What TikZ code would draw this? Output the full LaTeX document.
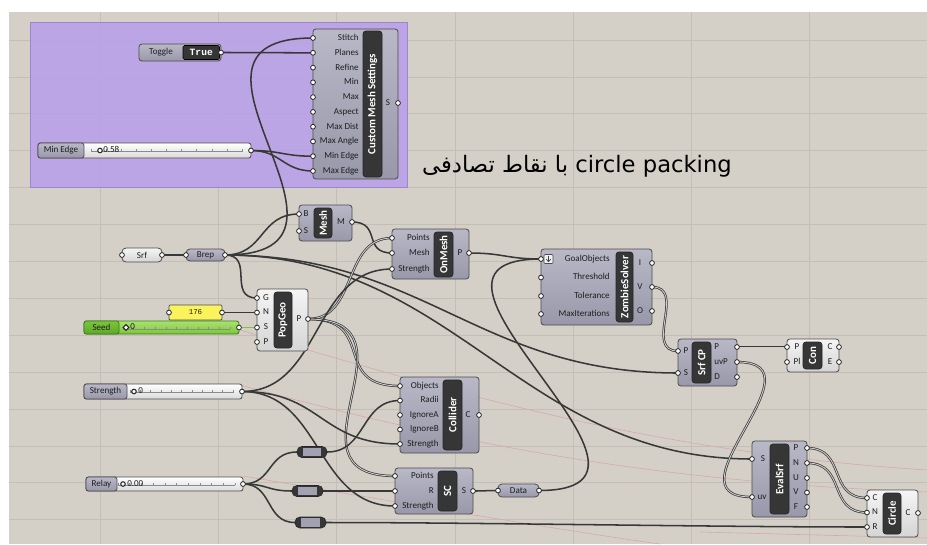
\documentclass[tikz,border=0pt]{standalone}
\usepackage{fontspec}
\setmainfont{Carlito}
\newfontfamily\titlefont{DejaVu Sans}
\newfontfamily\arabicfont[Script=Arabic]{DejaVu Sans}
\newfontfamily\panelfont{Liberation Mono}
\TeXXeTstate=1
\usetikzlibrary{shapes.geometric}

\pgfdeclarelayer{canvas}
\pgfdeclarelayer{wires}
\pgfsetlayers{canvas,wires,main}

\definecolor{canvasbg}{HTML}{D4D0C8}
\definecolor{gridc}{HTML}{C3BFB7}
\definecolor{groupc}{HTML}{B9A1E8}
\definecolor{groupedge}{HTML}{9C86D2}
\definecolor{wirec}{HTML}{383838}
\definecolor{wirelight}{HTML}{CFCFCF}
\definecolor{bodytop}{HTML}{B9B8C7}
\definecolor{bodybot}{HTML}{9998AA}
\definecolor{lighttop}{HTML}{F5F5F5}
\definecolor{lightbot}{HTML}{D5D5D5}
\definecolor{capc}{HTML}{363636}
\definecolor{edgec}{HTML}{4C4C4C}
\definecolor{labelc}{HTML}{1E1E1E}
\definecolor{pinkc}{HTML}{D8A9A9}
\definecolor{trackbot}{HTML}{DADADA}
\definecolor{tickc}{HTML}{8A8A8A}
\definecolor{seedtop}{HTML}{A8E26C}
\definecolor{seedbot}{HTML}{7CC53A}
\definecolor{seedlabtop}{HTML}{7CC53A}
\definecolor{seedlabbot}{HTML}{5EA82A}
\definecolor{seededge}{HTML}{3E7A1E}
\definecolor{seedwirec}{HTML}{7CC444}
\definecolor{panelc}{HTML}{FAF35C}
\definecolor{relayc}{HTML}{A2A1B2}

\tikzset{
  gbody/.style={draw=edgec, line width=0.6pt, rounded corners=2.2pt, top color=bodytop,
    bottom color=bodybot, inner sep=0pt, outer sep=0pt, text=labelc,
    font=\fontsize{6.8}{7}\selectfont},
  lbody/.style={gbody, top color=lighttop, bottom color=lightbot},
  gparam/.style={gbody, rounded corners=3pt},
  lparam/.style={lbody, rounded corners=3pt},
  track/.style={gbody, rounded corners=1.8pt, top color=white, bottom color=trackbot},
  seedtrack/.style={track, draw=seededge, top color=seedtop, bottom color=seedbot},
  seedlab/.style={gbody, rounded corners=1.8pt, draw=seededge, top color=seedlabtop, bottom color=seedlabbot},
  slab/.style={gbody, rounded corners=1.8pt},
  panel/.style={gbody, rounded corners=0.8pt, top color=panelc, bottom color=panelc,
    font=\panelfont\fontsize{5.6}{6}\selectfont},
  togval/.style={draw=black, fill=capc, rounded corners=1.2pt, text=white, inner sep=0pt,
    outer sep=0pt, font=\panelfont\bfseries\fontsize{7.2}{7.2}\selectfont},
  capsule/.style={draw=black!85, fill=capc, rounded corners=2.2pt, text=white, inner sep=0pt,
    outer sep=0pt, line width=0.5pt, font=\bfseries\fontsize{8.2}{8.2}\selectfont},
  relayend/.style={draw=black!85, fill=capc, rounded corners=3.6pt, inner sep=0pt, outer sep=0pt},
  relaymid/.style={fill=relayc, inner sep=0pt, outer sep=0pt},
  port/.style={circle, draw=black!85, fill=white, line width=0.6pt, minimum size=3.6pt,
    inner sep=0pt, outer sep=0pt},
  lbl/.style={text=labelc, font=\fontsize{6.8}{7}\selectfont, inner sep=0pt,
    text height=4.6pt, text depth=0.9pt},
  grip/.style={circle, draw=black!85, fill=white, line width=0.8pt, minimum size=3.4pt, inner sep=0pt},
  seedgrip/.style={diamond, draw=black!85, fill=white, line width=0.7pt, minimum size=4.6pt, inner sep=0pt},
  tick/.style={draw=tickc, line width=0.35pt},
  wire/.style={draw=wirec, line width=1.15pt},
  lwire/.style={draw=wirec, line width=0.55pt, double=wirelight, double distance=0.65pt},
  seedwire/.style={draw=seedwirec, line width=1.15pt},
  gridline/.style={draw=gridc, line width=0.6pt},
  pinkline/.style={draw=pinkc, line width=0.45pt},
  groupst/.style={draw=groupedge, line width=0.6pt, fill=groupc, fill opacity=0.9,
    inner sep=0pt, outer sep=0pt},
  titletext/.style={text=black, font=\titlefont\fontsize{17}{17}\selectfont, inner sep=0pt},
  iconbox/.style={draw=black!70, fill=white!88!gray, rounded corners=0.8pt, inner sep=0pt,
    outer sep=0pt, line width=0.4pt},
}

% box node from pixel corners: name, style, x1, y1, x2, y2, text
\newcommand\gbox[7]{%
  \pgfmathsetmacro\bw{(#5-#3)*0.75}%
  \pgfmathsetmacro\bh{(#6-#4)*0.75}%
  \node[#2, minimum width=\bw pt, minimum height=\bh pt] (#1) at ({(#3+#5)/2},{(#4+#6)/2}) {#7};}
% dark title strip of a component, text turned upwards
\newcommand\gcap[6]{%
  \pgfmathsetmacro\bw{(#4-#2)*0.75}%
  \pgfmathsetmacro\bh{(#5-#3)*0.75}%
  \node[capsule, rotate=90, minimum width=\bh pt, minimum height=\bw pt] (#1) at ({(#2+#4)/2},{(#3+#5)/2}) {#6};}
% port circle with its label: name, x, y, label x, label anchor, label
\newcommand\gport[6]{%
  \node[port] (#1) at (#2,#3) {};
  \node[lbl, anchor=#5] (#1-l) at (#4,#3) {#6};}
% wire between two ports
\newcommand\wire[4][]{\draw[wire,#1] (#2.center) .. controls +(#4,0) and +(-#4,0) .. (#3.center);}
% slider scale
\newcommand\ticks[3]{%
  \draw[tick] (#1,#3) -- (#2,#3);
  \foreach \k in {0,...,10} {\draw[tick] ({#1+(#2-#1)*\k/10},#3) -- ++(0,-2.5);}}

\begin{document}
\begin{tikzpicture}[x=0.75pt,y=-0.75pt]
\useasboundingbox (0,0) rectangle (927,544);

\begin{pgfonlayer}{canvas}
  \fill[white] (0,0) rectangle (927,544);
  \fill[canvasbg] (9,12) rectangle (927,544);
  \foreach \gx in {100,218.3,336.6,454.9,573.2,691.5,809.8}
    \draw[gridline] (\gx,12) -- (\gx,544);
  \foreach \k in {0,...,13}
    \draw[gridline] (9,{40+36.9*\k}) -- (927,{40+36.9*\k});
  % faint preview curves
  \draw[pinkline] (240,330) .. controls (450,392) and (650,452) .. (927,470);
  \draw[pinkline] (240,385) .. controls (450,442) and (650,482) .. (927,492);
  \draw[pinkline] (243,476) .. controls (420,506) and (560,530) .. (660,544);
  \draw[pinkline] (700,532) .. controls (780,534) and (860,536) .. (927,538);
  % group
  \gbox{grp}{groupst}{30}{22}{407}{187}{}
  % title
  \node[titletext, anchor=base] (title) at (577,172)
    {\beginR\beginL circle packing\endL\ {\arabicfont با نقاط تصادفی}\endR};
\end{pgfonlayer}

% ---------- Custom Mesh Settings ----------
\gbox{cms}{gbody}{313}{29}{398}{179}{}
\gcap{cms-cap}{363}{31}{382}{177}{Custom Mesh Settings}
\gport{cms-stitch}{313}{38}{359}{east}{Stitch}
\gport{cms-planes}{313}{52.8}{359}{east}{Planes}
\gport{cms-refine}{313}{67.6}{359}{east}{Refine}
\gport{cms-min}{313}{82.3}{359}{east}{Min}
\gport{cms-max}{313}{97.1}{359}{east}{Max}
\gport{cms-aspect}{313}{111.9}{359}{east}{Aspect}
\gport{cms-maxdist}{313}{126.7}{359}{east}{Max Dist}
\gport{cms-maxangle}{313}{141.4}{359}{east}{Max Angle}
\gport{cms-minedge}{313}{156.2}{359}{east}{Min Edge}
\gport{cms-maxedge}{313}{171}{359}{east}{Max Edge}
\gport{cms-s}{398}{103}{388}{center}{S}

% ---------- Toggle ----------
\gbox{tog}{gbody}{139}{44}{221}{61}{}
\node[lbl] (tog-l) at (161,52.5) {Toggle};
\gbox{tog-val}{togval}{183}{45.5}{219.5}{59.5}{True}
\node[port] (tog-out) at (221,52.5) {};

% ---------- Min Edge slider ----------
\gbox{me}{track}{38}{143}{251}{158}{}
\gbox{me-lab}{slab}{38}{143}{84}{158}{Min Edge}
\ticks{91}{242}{151.5}
\node[grip] (me-grip) at (100,150.5) {};
\node[lbl, anchor=west] (me-val) at (103,150.5) {0.58};
\node[port] (me-out) at (251,150.5) {};

% ---------- Srf / Brep ----------
\gbox{srf}{lparam}{122}{248}{162}{262}{Srf}
\node[port] (srf-in) at (122,255) {};
\node[port] (srf-out) at (162,255) {};
\gbox{brep}{gparam}{186}{249}{225}{261}{Brep}
\node[port] (brep-in) at (186,255) {};
\node[port] (brep-out) at (225,255) {};

% ---------- Mesh ----------
\gbox{mesh}{gbody}{299}{205}{352}{241}{}
\gcap{mesh-cap}{314}{208}{332}{238}{Mesh}
\gport{mesh-b}{299}{214}{306}{center}{B}
\gport{mesh-s}{299}{231}{306}{center}{S}
\gport{mesh-m}{352}{222}{341}{center}{M}

% ---------- OnMesh ----------
\gbox{om}{gbody}{392}{229}{469}{279}{}
\gcap{om-cap}{434}{232}{453}{277}{OnMesh}
\gport{om-points}{392}{238}{430}{east}{Points}
\gport{om-mesh}{392}{253}{430}{east}{Mesh}
\gport{om-strength}{392}{269}{430}{east}{Strength}
\gport{om-p}{469}{253}{460}{center}{P}

% ---------- PopGeo ----------
\gbox{pop}{lbody}{257}{289}{308}{351}{}
\gcap{pop-cap}{274}{292}{292}{348}{PopGeo}
\gport{pop-g}{257}{298}{266}{center}{G}
\gport{pop-n}{257}{312.5}{266}{center}{N}
\gport{pop-s}{257}{327.5}{266}{center}{S}
\gport{pop-pin}{257}{342}{266}{center}{P}
\gport{pop-p}{308}{319}{299}{center}{P}

% ---------- number panel ----------
\gbox{num}{panel}{169}{305}{222}{320}{176}
\node[port] (num-in) at (169,312.5) {};
\node[port] (num-out) at (222,312.5) {};

% ---------- Seed slider ----------
\gbox{seed}{seedtrack}{84}{321}{239}{334}{}
\gbox{seed-lab}{seedlab}{84}{321}{119}{334}{Seed}
\ticks{123}{230}{329}
\node[seedgrip] (seed-grip) at (126,327.5) {};
\node[lbl, anchor=west] (seed-val) at (130,327.5) {0};
\node[port] (seed-out) at (239,327.5) {};

% ---------- Strength slider ----------
\gbox{str}{track}{84}{384}{242}{399}{}
\gbox{str-lab}{slab}{84}{384}{127}{399}{Strength}
\ticks{130}{233}{392.5}
\node[grip] (str-grip) at (134,391.5) {};
\node[lbl, anchor=west] (str-val) at (138,391.5) {0};
\node[port] (str-out) at (242,391.5) {};

% ---------- Relay slider ----------
\gbox{rly}{track}{86}{477}{243}{491}{}
\gbox{rly-lab}{slab}{86}{477}{117}{491}{Relay}
\ticks{118}{235}{485}
\node[grip] (rly-grip) at (123,484) {};
\node[lbl, anchor=west] (rly-val) at (127,484) {0.00};
\node[port] (rly-out) at (243,484) {};

% ---------- relays ----------
\gbox{r1}{relayend}{297}{446.5}{327}{457.5}{}
\gbox{r1-mid}{relaymid}{303}{447.6}{321}{456.4}{}
\coordinate (r1-in) at (297,452);
\coordinate (r1-out) at (327,452);
\gbox{r2}{relayend}{292}{485.5}{323}{496.5}{}
\gbox{r2-mid}{relaymid}{298}{486.6}{317}{495.4}{}
\coordinate (r2-in) at (292,491);
\coordinate (r2-out) at (323,491);
\gbox{r3}{relayend}{295}{517}{326}{528}{}
\gbox{r3-mid}{relaymid}{301}{518.1}{320}{526.9}{}
\coordinate (r3-in) at (295,522.5);
\coordinate (r3-out) at (326,522.5);

% ---------- Collider ----------
\gbox{col}{gbody}{400}{377}{479}{453}{}
\gcap{col-cap}{443}{380}{462}{450}{Collider}
\gport{col-objects}{400}{386}{439}{east}{Objects}
\gport{col-radii}{400}{400.5}{439}{east}{Radii}
\gport{col-ignorea}{400}{415}{439}{east}{IgnoreA}
\gport{col-ignoreb}{400}{429.5}{439}{east}{IgnoreB}
\gport{col-strength}{400}{444}{439}{east}{Strength}
\gport{col-c}{479}{415}{468}{center}{C}

% ---------- SC ----------
\gbox{sc}{gbody}{395}{468}{473}{514}{}
\gcap{sc-cap}{438}{471}{457}{511}{SC}
\gport{sc-points}{395}{476}{434}{east}{Points}
\gport{sc-r}{395}{491}{434}{east}{R}
\gport{sc-strength}{395}{506}{434}{east}{Strength}
\gport{sc-s}{473}{491}{464}{center}{S}

% ---------- Data ----------
\gbox{data}{gparam}{498}{484}{539}{497}{Data}
\node[port] (data-in) at (498,490.5) {};
\node[port] (data-out) at (539,490.5) {};

% ---------- ZombieSolver ----------
\gbox{zs}{gbody}{541}{249}{652}{325}{}
\gcap{zs-cap}{616}{252}{633}{322}{ZombieSolver}
\gport{zs-goal}{541}{259}{610}{east}{GoalObjects}
\gport{zs-threshold}{541}{277.5}{610}{east}{Threshold}
\gport{zs-tolerance}{541}{296}{610}{east}{Tolerance}
\gport{zs-maxit}{541}{314}{610}{east}{MaxIterations}
\gport{zs-i}{652}{263}{640}{center}{I}
\gport{zs-v}{652}{287}{640}{center}{V}
\gport{zs-o}{652}{311}{640}{center}{O}
\gbox{zs-icon}{iconbox}{544}{254.5}{553}{263.5}{}
\draw[line width=0.5pt, black!75] (548.5,256.3) -- (548.5,261.5);
\draw[line width=0.5pt, black!75] (546.3,259.2) -- (548.5,261.7) -- (550.7,259.2);

% ---------- Srf CP ----------
\gbox{scp}{gbody}{678}{339}{737}{386}{}
\gcap{scp-cap}{692}{342}{711}{383}{Srf CP}
\gport{scp-p}{678}{351}{686}{center}{P}
\gport{scp-s}{678}{373}{686}{center}{S}
\gport{scp-pout}{737}{347}{714}{west}{P}
\gport{scp-uvp}{737}{362}{714}{west}{uvP}
\gport{scp-d}{737}{377}{714}{west}{D}

% ---------- Con ----------
\gbox{con}{lbody}{787}{339}{839}{372}{}
\gcap{con-cap}{803}{342}{822}{369}{Con}
\gport{con-p}{787}{347}{797}{center}{P}
\gport{con-pl}{787}{362}{797}{center}{Pl}
\gport{con-c}{839}{347}{830}{center}{C}
\gport{con-e}{839}{362}{830}{center}{E}

% ---------- EvalSrf ----------
\gbox{ev}{gbody}{752}{441}{807}{517}{}
\gcap{ev-cap}{770}{444}{789}{514}{EvalSrf}
\gport{ev-s}{752}{459}{763}{center}{S}
\gport{ev-uv}{752}{497}{762}{center}{uv}
\gport{ev-p}{807}{448}{796}{center}{P}
\gport{ev-n}{807}{463}{796}{center}{N}
\gport{ev-u}{807}{478}{796}{center}{U}
\gport{ev-v}{807}{492.5}{796}{center}{V}
\gport{ev-f}{807}{507}{796}{center}{F}

% ---------- Circle ----------
\gbox{cir}{lbody}{867}{490}{918}{537}{}
\gcap{cir-cap}{883}{493}{901}{534}{Circle}
\gport{cir-c}{867}{498}{875}{center}{C}
\gport{cir-n}{867}{512.5}{875}{center}{N}
\gport{cir-r}{867}{527}{875}{center}{R}
\gport{cir-out}{918}{513}{908}{center}{C}

% ---------- wires ----------
\begin{pgfonlayer}{wires}
  \wire{tog-out}{cms-planes}{30}
  \wire{me-out}{cms-minedge}{30}
  \wire{me-out}{cms-maxedge}{30}
  \wire{brep-out}{cms-stitch}{170}
  \wire{srf-out}{brep-in}{12}
  \wire{brep-out}{mesh-b}{40}
  \wire{brep-out}{pop-g}{30}
  \wire{brep-out}{scp-s}{200}
  \wire{brep-out}{ev-s}{230}
  \wire{mesh-m}{om-mesh}{30}
  \wire[lwire]{pop-p}{om-points}{50}
  \wire[lwire]{pop-p}{col-objects}{70}
  \wire[lwire]{pop-p}{sc-points}{120}
  \wire{str-out}{om-strength}{80}
  \wire{str-out}{col-strength}{80}
  \wire{str-out}{sc-strength}{80}
  \wire{rly-out}{r1-in}{30}
  \wire{rly-out}{r2-in}{25}
  \wire{rly-out}{r3-in}{30}
  \wire{r1-out}{col-radii}{40}
  \wire{r2-out}{sc-r}{30}
  \wire{r3-out}{cir-r}{150}
  \wire{num-out}{pop-n}{10}
  \wire[seedwire]{seed-out}{pop-s}{10}
  \wire{om-p}{zs-goal}{35}
  \wire{data-out}{zs-goal}{170}
  \wire{sc-s}{data-in}{10}
  \wire[lwire]{zs-v}{scp-p}{35}
  \wire[lwire]{scp-pout}{con-p}{20}
  \wire[lwire]{scp-uvp}{ev-uv}{90}
  \wire[lwire]{ev-p}{cir-c}{40}
  \wire[lwire]{ev-n}{cir-n}{40}
\end{pgfonlayer}
\end{tikzpicture}
\end{document}
